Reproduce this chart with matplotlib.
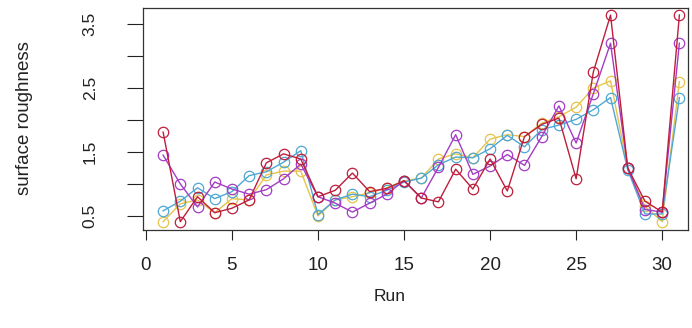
import numpy as np
import matplotlib
matplotlib.use("Agg")
from matplotlib import pyplot as plt

plt.rcParams['font.family'] = ['Liberation Sans', 'DejaVu Sans']

run = list(range(1, 32))

# surface roughness per run, one list per series
yellow = [0.41, 0.69, 0.75, 0.55, 0.77, 0.75, 1.14, 1.20, 1.20, 0.50,
          0.75, 0.80, 0.86, 0.94, 1.05, 1.09, 1.39, 1.47, 1.41, 1.70,
          1.77, 1.74, 1.95, 2.05, 2.20, 2.50, 2.61, 1.25, 0.65, 0.41, 2.60]
cyan = [0.58, 0.73, 0.94, 0.77, 0.88, 1.13, 1.19, 1.34, 1.52, 0.52,
        0.75, 0.84, 0.80, 0.90, 1.03, 1.09, 1.30, 1.42, 1.41, 1.55,
        1.76, 1.58, 1.85, 1.92, 2.01, 2.16, 2.35, 1.22, 0.53, 0.53, 2.35]
purple = [1.45, 1.00, 0.64, 1.03, 0.92, 0.84, 0.91, 1.08, 1.31, 0.80,
          0.70, 0.56, 0.70, 0.84, 1.05, 0.78, 1.26, 1.77, 1.15, 1.28,
          1.46, 1.29, 1.74, 2.22, 1.64, 2.41, 3.20, 1.25, 0.60, 0.56, 3.20]
red = [1.81, 0.41, 0.80, 0.55, 0.62, 0.75, 1.33, 1.47, 1.39, 0.80,
       0.90, 1.17, 0.88, 0.93, 1.05, 0.78, 0.72, 1.23, 0.92, 1.39,
       0.89, 1.74, 1.93, 2.03, 1.08, 2.75, 3.64, 1.25, 0.73, 0.56, 3.64]

series = [yellow, cyan, purple, red]
colors = ['#E6C44A', '#4FA8D2', '#A43CC4', '#BE1E3C']

xticks = [0, 5, 10, 15, 20, 25, 30]
yticks = [0.5, 1.0, 1.5, 2.0, 2.5, 3.0, 3.5]
ylabels = ['0.5', '', '1.5', '', '2.5', '', '3.5']

fig = plt.figure(figsize=(6.92, 3.28), dpi=100)
ax = fig.add_axes([0.2066, 0.2988, 0.7876, 0.6768])

for s, c in zip(series, colors):
    ax.plot(run, s, color=c, lw=1.0, marker='o', ms=7.5, mfc='none',
            mec=c, mew=0.9)

ax.set_xlim(-0.17, 31.5)
ax.set_ylim(0.28, 3.75)
ax.set_xticks(xticks)
ax.set_yticks(yticks)
ax.set_yticklabels(ylabels, rotation=90, va='center')
ax.tick_params(axis='x', length=7.2, width=0.8, pad=12, labelsize=13.5, colors='#222222')
ax.tick_params(axis='y', length=11.5, width=0.8, pad=21, labelsize=12.5, colors='#222222')
for sp in ax.spines.values():
    sp.set_linewidth(0.9)
    sp.set_color('#333333')

fig.text(0.5636, 0.095, 'Run', ha='center', va='center', fontsize=12.5, color='#222222')
fig.text(0.036, 0.64, 'surface roughness', ha='center', va='center', rotation=90,
         fontsize=13.5, color='#222222')

fig.savefig('out.png', dpi=100)
